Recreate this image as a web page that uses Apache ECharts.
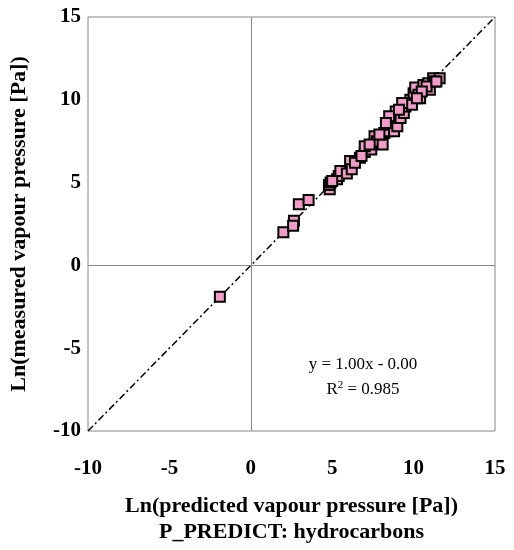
<!DOCTYPE html>
<html>
<head>
<meta charset="utf-8">
<script src="https://cdn.jsdelivr.net/npm/echarts@6/dist/echarts.min.js"></script>
<style>
html,body{margin:0;padding:0;background:#fff;}
#chart{width:514px;height:550px;}
</style>
</head>
<body>
<div id="chart"></div>
<script>
// Data
var predicted = [-1.9, 2.0, 2.65, 2.6, 2.95, 3.55, 4.85, 4.8, 4.9, 5.3, 5.4, 5.5, 5.9, 6.1, 6.2, 6.7, 7.0, 7.2, 7.4, 7.6, 7.75, 8.1, 8.2, 8.4, 8.6, 8.7, 8.8, 9.0, 8.8, 8.9, 9.2, 9.4, 9.6, 9.8, 9.5, 10.0, 10.1, 10.3, 10.4, 10.6, 10.9, 11.0, 11.2, 11.6, 11.3, 10.8, 10.5, 9.9, 9.3, 8.5, 7.9, 7.0, 6.4, 5.0, 11.4, 10.2, 9.1, 8.3, 7.3, 6.8];
var measured  = [-1.9, 2.0, 2.7, 2.4, 3.7, 3.95, 4.6, 4.85, 5.0, 5.2, 5.4, 5.7, 5.55, 6.3, 5.8, 6.5, 6.85, 7.15, 7.0, 7.8, 7.5, 7.3, 8.0, 8.1, 8.5, 8.7, 8.1, 8.4, 8.9, 9.3, 8.9, 9.2, 9.8, 10.0, 9.6, 10.4, 10.75, 10.3, 10.1, 10.9, 11.0, 10.6, 11.3, 11.3, 11.1, 10.8, 10.5, 9.7, 9.8, 9.0, 7.9, 7.2, 6.2, 5.1, 11.1, 10.1, 9.4, 8.6, 7.3, 6.6];
var diagX = [-10, 15];
var diagY = [-10, 15];
var axisMin = -10, axisMax = 15, axisStep = 5;
var xTitle = 'Ln(predicted vapour pressure [Pa])\nP_PREDICT: hydrocarbons';
var yTitle = 'Ln(measured vapour pressure [Pa])';
var eqLine1 = 'y = 1.00x - 0.00';
var eqLine2 = '0.985';

var pts = predicted.map(function(v, i){ return [v, measured[i]]; });
var diag = diagX.map(function(v, i){ return [v, diagY[i]]; });

var serif = '"Liberation Serif", "Times New Roman", serif';
var chart = echarts.init(document.getElementById('chart'));
chart.setOption({
  animation: false,
  backgroundColor: '#fff',
  grid: { left: 86, right: 19, top: 17, bottom: 117, show: true, borderColor: '#888', borderWidth: 1 },
  xAxis: {
    type: 'value', min: axisMin, max: axisMax, interval: axisStep,
    axisLine: { show: false }, axisTick: { show: false }, splitLine: { show: false },
    axisLabel: { color: '#000', fontFamily: serif, fontWeight: 'bold', fontSize: 21, margin: 27 },
    name: xTitle, nameLocation: 'middle', nameGap: 62,
    nameTextStyle: { color: '#000', fontFamily: serif, fontWeight: 'bold', fontSize: 22, lineHeight: 26 }
  },
  yAxis: {
    type: 'value', min: axisMin, max: axisMax, interval: axisStep,
    axisLine: { show: false }, axisTick: { show: false }, splitLine: { show: false },
    axisLabel: { color: '#000', fontFamily: serif, fontWeight: 'bold', fontSize: 21, margin: 7 },
    name: yTitle, nameLocation: 'middle', nameGap: 58,
    nameTextStyle: { color: '#000', fontFamily: serif, fontWeight: 'bold', fontSize: 22 }
  },
  graphic: [
    { type: 'text', x: 363, y: 356, style: { text: eqLine1, fill: '#000', font: '17px ' + serif, textAlign: 'center' } },
    { type: 'text', x: 363, y: 380, style: {
        text: 'R{sup|2} = ' + eqLine2, fill: '#000', font: '17px ' + serif, textAlign: 'center',
        rich: { sup: { fontSize: 11, verticalAlign: 'top', padding: [0,0,9,0], fontFamily: serif } }
      } }
  ],
  series: [
    {
      type: 'line', data: diag, symbol: 'none', silent: true,
      lineStyle: { color: '#000', width: 1.5, type: [7, 3, 2, 3] },
      markLine: {
        silent: true, symbol: 'none', label: { show: false },
        lineStyle: { color: '#888', type: 'solid', width: 1 },
        data: [{ xAxis: 0 }, { yAxis: 0 }]
      },
      z: 1
    },
    {
      type: 'scatter', data: pts, symbol: 'rect', symbolSize: 10,
      itemStyle: { color: '#f29bc9', borderColor: '#000', borderWidth: 2, opacity: 1 },
      z: 3
    }
  ]
});
</script>
</body>
</html>
